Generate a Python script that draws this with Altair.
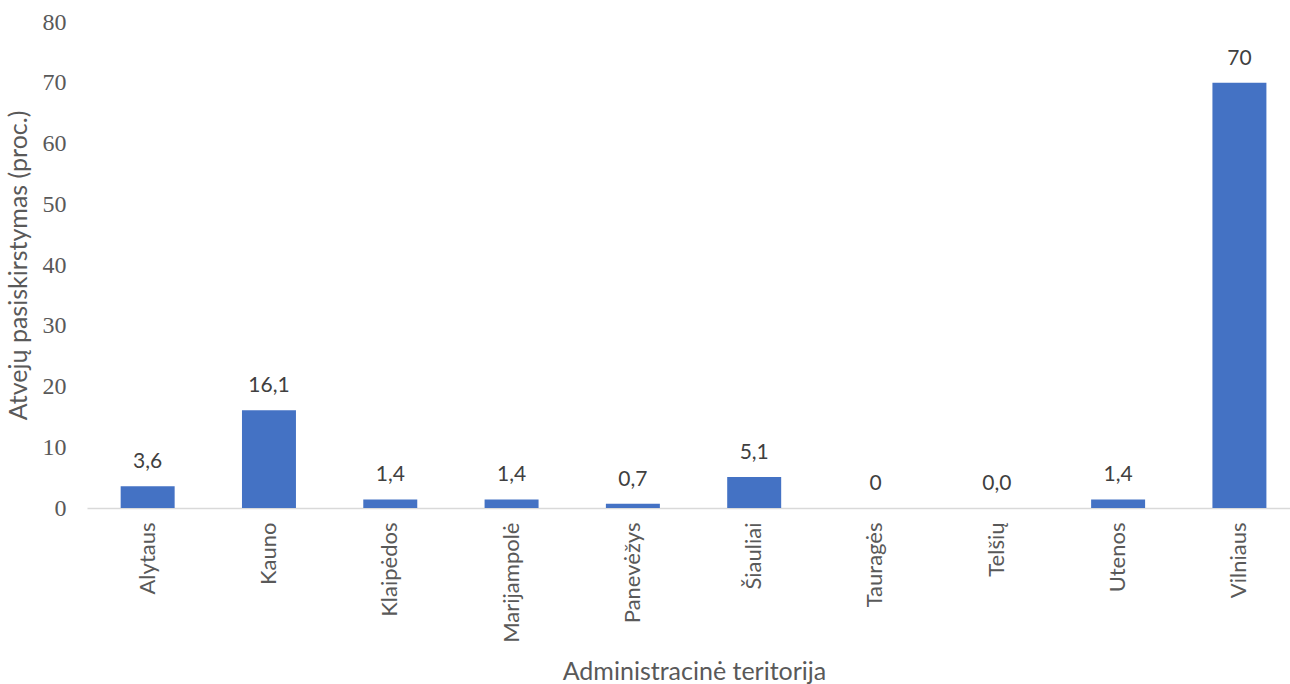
import altair as alt
import pandas as pd

# Administrative territories and share of cases (percent)
territories = ["Alytaus", "Kauno", "Klaipėdos", "Marijampolė", "Panevėžys",
               "Šiauliai", "Tauragės", "Telšių", "Utenos", "Vilniaus"]
shares = [3.6, 16.1, 1.4, 1.4, 0.7, 5.1, 0.0, 0.0, 1.4, 70.0]
share_labels = ["3,6", "16,1", "1,4", "1,4", "0,7", "5,1", "0", "0,0", "1,4", "70"]
y_ticks = [0, 10, 20, 30, 40, 50, 60, 70, 80]

df = pd.DataFrame({"territory": territories, "share": shares, "label": share_labels})

SANS = "Lato"
SERIF = "Liberation Serif"

x_enc = alt.X(
    "territory:N",
    sort=None,
    scale=alt.Scale(paddingInner=0.555, paddingOuter=0.236, align=0.588),
    axis=alt.Axis(
        title="Administracinė teritorija",
        titleFont=SANS, titleFontSize=25, titleFontWeight="normal", titleColor="#595959",
        titleX=607, titleY=163, titleBaseline="middle", titleAnchor="start", titleAlign="center",
        labelAngle=-90, labelAlign="right", labelBaseline="middle",
        labelFont=SANS, labelFontSize=22, labelColor="#595959", labelPadding=14,
        ticks=False, tickSize=0,
        domainColor="#d9d9d9", domainWidth=1.5,
    ),
)

y_enc = alt.Y(
    "share:Q",
    scale=alt.Scale(domain=[0, 80], nice=False),
    axis=alt.Axis(
        title="Atvejų pasiskirstymas (proc.)",
        titleFont=SANS, titleFontSize=25, titleFontWeight="normal", titleColor="#595959",
        titleX=-69, titleY=243, titleBaseline="middle", titleAlign="center", titleAngle=-90,
        values=y_ticks, labelFont=SERIF, labelFontSize=24, labelColor="#595959",
        labelPadding=21, grid=False, domain=False, ticks=False, tickSize=0,
    ),
)

bars = alt.Chart(df).mark_bar(color="#4472C4").encode(x=x_enc, y=y_enc)

labels = alt.Chart(df).mark_text(
    font=SANS, fontSize=21, color="#404040", baseline="alphabetic", align="center", dy=-18
).encode(x=alt.X("territory:N", sort=None), y=alt.Y("share:Q"), text="label:N")

chart = (
    alt.layer(bars, labels)
    .properties(
        width=1203,
        height=486,
        autosize=alt.AutoSizeParams(type="none"),
        padding={"left": 87, "top": 22, "right": 0, "bottom": 176},
        background="white",
    )
    .configure_view(stroke=None)
)

chart.save("out.html", embed_options={"renderer": "svg", "actions": False})
